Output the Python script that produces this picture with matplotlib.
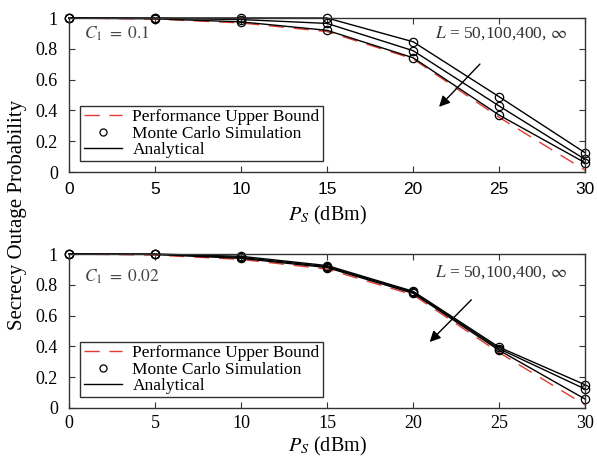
import matplotlib
matplotlib.use('Agg')
import matplotlib.pyplot as plt
import numpy as np

plt.rcParams['font.family'] = ['Liberation Serif', 'DejaVu Serif']
plt.rcParams['mathtext.fontset'] = 'stix'

ps = [0, 5, 10, 15, 20, 25, 30]

# C1 = 0.1, analytical / simulation for L = 50, 100, 400
top_L50 = [1.0, 1.0, 1.0, 1.0, 0.846, 0.489, 0.125]
top_L100 = [1.0, 0.998, 0.99, 0.965, 0.788, 0.429, 0.082]
top_L400 = [1.0, 0.995, 0.975, 0.92, 0.742, 0.37, 0.06]
top_bound = [1.0, 0.993, 0.968, 0.912, 0.735, 0.355, 0.012]

# C1 = 0.02
bot_L50 = [1.0, 1.0, 0.985, 0.925, 0.758, 0.395, 0.151]
bot_L100 = [1.0, 0.998, 0.978, 0.918, 0.752, 0.385, 0.123]
bot_L400 = [1.0, 0.997, 0.972, 0.912, 0.745, 0.375, 0.058]
bot_bound = [1.0, 0.993, 0.965, 0.902, 0.735, 0.36, 0.02]

panels = [
    (top_L50, top_L100, top_L400, top_bound, r'$C_1\ =\ 0.1$'),
    (bot_L50, bot_L100, bot_L400, bot_bound, r'$C_1\ =\ 0.02$'),
]

fig = plt.figure(figsize=(5.97, 4.62), dpi=100)
positions = [[0.1156, 0.6277, 0.8644, 0.3333], [0.1156, 0.1169, 0.8644, 0.3333]]
arrows = [((24.0, 0.714), (21.4, 0.41)), ((23.5, 0.715), (20.85, 0.416))]
ltext_y = [0.9, 0.88]
ctext_y = [0.9, 0.85]

for i, (l50, l100, l400, bound, ctxt) in enumerate(panels):
    ax = fig.add_axes(positions[i])
    ax.plot(ps, bound, color='#e03c31', linestyle=(0, (11, 7)), linewidth=1.0,
            label='Performance Upper Bound')
    for j, series in enumerate([l50, l100, l400]):
        ax.plot(ps, series, color='black', linewidth=1.0, clip_on=False)
        ax.plot(ps, series, linestyle='none', marker='o', markersize=6,
                markerfacecolor='none', markeredgecolor='black', markeredgewidth=0.9,
                clip_on=False, label='Monte Carlo Simulation' if j == 0 else None)
    ax.plot([], [], color='black', linewidth=1.0, label='Analytical')

    ax.set_xlim(0, 30)
    ax.set_ylim(0, 1)
    ax.set_xticks(ps)
    ax.set_yticks([0, 0.2, 0.4, 0.6, 0.8, 1])
    ax.set_yticklabels(['0', '0.2', '0.4', '0.6', '0.8', '1'])
    ax.tick_params(direction='in', top=True, right=True, labelsize=13, length=4,
                   color='#333333')
    ax.tick_params(axis='y', pad=8)
    ax.tick_params(axis='x', pad=7 if i == 0 else 5)
    if i == 0:
        ax.tick_params(axis='x', labelfontfamily='Liberation Sans', labelsize=12.5)
    for s in ax.spines.values():
        s.set_color('#333333')
        s.set_linewidth(1.0)
    ax.set_xlabel(r'$P_S$ (dBm)', fontsize=14.5, labelpad=5 if i == 0 else 2)

    ax.text(0.87, ctext_y[i], ctxt, fontsize=12.5, color='#444444', va='center')
    ax.text(21.3, ltext_y[i], r'$L$ = 50,100,400, $\infty$', fontsize=12.5,
            color='#333333', va='center')
    ax.annotate('', xy=arrows[i][1], xytext=arrows[i][0],
                arrowprops=dict(arrowstyle='-|>', color='black', lw=1.0,
                                mutation_scale=16))

    leg = ax.legend(loc='lower left', bbox_to_anchor=(0.022, 0.07), fontsize=12.5,
                    frameon=True, fancybox=False, edgecolor='black',
                    handlelength=2.2, borderpad=0.2, labelspacing=0.0,
                    handletextpad=0.6, borderaxespad=0, markerscale=0.85)
    leg.get_frame().set_linewidth(1.0)

fig.text(0.03, 0.535, 'Secrecy Outage Probability', rotation=90, fontsize=15,
         va='center', ha='center')

plt.savefig('out.png', dpi=100)
